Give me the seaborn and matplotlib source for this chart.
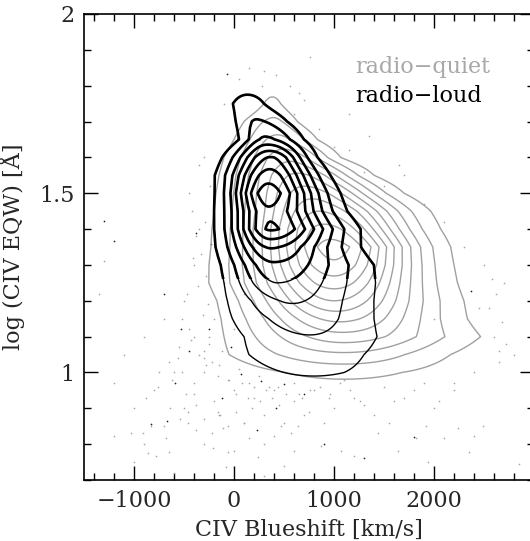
import numpy as np
import matplotlib
matplotlib.use("Agg")
import matplotlib.pyplot as plt
from matplotlib.patches import Rectangle
from matplotlib.ticker import FixedLocator, MultipleLocator
import seaborn as sns
import pandas as pd

row_y = [0.85, 0.90, 0.95, 1.00, 1.05, 1.10, 1.15, 1.20, 1.25, 1.30, 1.35,
         1.40, 1.45, 1.50, 1.55, 1.60, 1.65, 1.70, 1.75, 1.80, 1.85]

# radio-loud: per-row peak (in contour units), centre and left/right widths [km/s]
rl_peak = [0.0, 0.3, 0.6, 1.1, 1.5, 1.95, 2.5, 3.1, 4.0, 4.8, 6.1,
           8.15, 7.8, 8.6, 7.5, 6.05, 3.2, 2.1, 1.5, 0.5, 0.0]
rl_center = [800, 800, 800, 800, 725, 767, 700, 567, 433, 400, 367,
             367, 350, 333, 350, 367, 317, 233, 133, 133, 133]
rl_wl = [690, 690, 690, 690, 639, 577, 529, 421, 320, 301, 290,
         276, 271, 254, 270, 256, 175, 177, 160, 160, 160]
rl_wr = [690, 690, 690, 690, 639, 574, 517, 553, 590, 564, 475,
         439, 386, 353, 306, 247, 251, 245, 185, 185, 185]

# radio-quiet
rq_peak = [0.0, 0.2, 0.5, 1.3, 2.8, 4.6, 6.3, 8.0, 9.5, 10.8, 11.5,
           10.4, 9.0, 7.6, 6.2, 4.7, 3.3, 2.2, 1.3, 0.5, 0.0]
rq_center = [1100, 1100, 1100, 1100, 1100, 1100, 1050, 1000, 1000, 1000, 1000,
             920, 850, 750, 650, 550, 450, 400, 383, 383, 383]
rq_wl = [800, 800, 800, 800, 801, 687, 615, 574, 590, 573, 557,
         527, 501, 462, 419, 370, 291, 239, 115, 115, 115]
rq_wr = [800, 800, 800, 800, 743, 782, 669, 637, 582, 550, 528,
         530, 533, 472, 393, 294, 248, 186, 115, 115, 115]

rl_levels = [1, 2, 3, 4, 5, 6, 7, 8]
rq_levels = [1, 2, 3, 4, 5, 6, 7, 8, 9, 10, 11]

# individual objects outside the contours
rq_dot_x = [-833, -913, -683, -863, -783, -653, -213, -63, -83, 147, 467, 567, 637,
            397, -1203, -1033, -463, -113, 237, 1197, 1817, 1917, 1547, 2397, 2347,
            2487, 1067, 1437, 1637, 1937, 2847, 2097, 2237, 867,
            -100, 50, 150, 280, 420, 600, 700, 850, 1000, 1150, 1300, 1500, 1700,
            1900, 2100, 2300, 2500, 2700, 2600, 2800, 2400, 2200, 2000, 1800, 1600,
            1400, 1200, 1000, 800, 600, 400, 200, 0, -200, -400, -600, -800, -1000,
            -1200, -1100, -900, -700, -500, -400, -350, -450, -300, -250, -300,
            -150, 100, 300, 500, 700, 900, -500, -700, -900, -300, 0, 300, 600,
            -1000, -600, -350, -250, -150, -50, 50, 150, 250, 350, -450, -550,
            -650, -750, -200, -100, 0, 100, 200, -300, -400, 450, 650, 750, 950,
            1100, 1300, 1500, 1700, 2000, 2200, 2450, 2650, -1300, -1350, 300, 500,
            -420, -380, -330, -280, -260, -310, -360, -410, -470, -520, -290, -240,
            -350, -430, -560, -620, -480, -380, -300, -220, -160, -120, -60, 20,
            80, 140, 200, 260, 320, 380, 440, 520, 600, 680, 760, 860, 960, 1060,
            1160, 1260, -540, -460, -380, -300, -220, -140, -60, 20, 100, 180,
            -880, -760, -640, -520, -400, -280, -160, 2550, 2620, 2680, 2720,
            2580, 2650, 1900, 2050, 1650, 1350, 1150, 560, 650, 760, 300]
rq_dot_y = [0.852, 0.830, 0.818, 0.774, 0.768, 0.777, 0.790, 0.777, 0.735, 0.818,
            0.852, 0.832, 0.852, 0.824, 0.824, 0.830, 0.858, 0.846, 0.763, 0.768,
            0.818, 0.852, 0.858, 0.824, 0.777, 0.852, 0.782, 0.830, 0.782, 0.749,
            0.746, 0.818, 0.846, 0.796,
            1.75, 1.82, 1.85, 1.80, 1.83, 1.72, 1.76, 1.68, 1.63, 1.62, 1.56, 1.52,
            1.55, 1.47, 1.42, 1.35, 1.30, 1.25, 1.10, 1.05, 1.00, 0.95, 0.90, 0.95,
            0.92, 0.88, 0.93, 0.90, 0.95, 0.92, 0.95, 0.93, 0.95, 0.92, 0.97, 1.00,
            0.95, 0.90, 0.97, 1.05, 1.10, 1.15, 1.20, 1.30, 1.40, 1.50, 1.60, 1.10,
            1.00, 0.88, 0.86, 0.88, 0.86, 0.88, 0.86, 0.90, 0.85, 0.80, 0.80, 0.78,
            0.80, 0.78, 0.75, 0.72, 1.05, 1.08, 1.02, 0.98, 1.01, 0.97, 0.99, 0.96,
            1.12, 1.07, 1.03, 1.00, 1.15, 1.25, 1.12, 1.22, 1.35, 1.04, 1.10, 0.91,
            0.94, 0.89, 0.93, 0.98, 0.91, 0.96, 0.93, 1.15, 0.97, 1.18, 1.06, 1.31,
            1.22, 0.71, 0.74,
            1.45, 1.38, 1.33, 1.27, 1.19, 1.16, 1.24, 1.32, 1.22, 1.15, 1.42, 1.52,
            1.58, 1.09, 1.04, 0.98, 0.94, 0.91, 1.06, 1.03, 0.99, 1.06, 0.98, 0.94,
            0.97, 0.93, 0.96, 0.92, 0.95, 0.93, 0.96, 0.94, 0.97, 0.93, 0.95, 0.96,
            0.94, 0.97, 0.95, 0.92, 0.87, 0.89, 0.84, 0.87, 0.83, 0.88, 0.85, 0.89,
            0.86, 0.90, 0.93, 0.96, 0.90, 1.00, 0.94, 1.02, 0.89, 1.18, 1.22, 1.14,
            1.08, 1.26, 1.03, 0.97, 0.92, 1.58, 1.66, 1.72, 1.80, 1.78, 1.88, 1.84]
rl_dot_x = [-67, -233, -700, -533, -33, 267, 500, 700, 1800, 2367, 67, -667, -1300,
            -1200, -833, -380, -450, -120, 420, 230, -250, -590, 900, 1300]
rl_dot_y = [1.833, 1.358, 1.219, 1.121, 1.07, 0.977, 0.968, 0.94, 0.819, 1.228,
            0.996, 0.865, 1.423, 1.367, 0.856, 1.39, 1.06, 0.93, 0.90, 0.84,
            1.12, 0.97, 0.80, 0.76]


def row_density(xg, peak, center, wl, wr):
    z = np.zeros((len(peak), len(xg)))
    for i in range(len(peak)):
        w = np.where(xg < center[i], wl[i], wr[i])
        z[i] = peak[i] * np.exp(-0.5 * ((xg - center[i]) / w) ** 2)
    return z


sns.set_theme(style="ticks")
plt.rcParams["font.family"] = ["DejaVu Serif"]

fig = plt.figure(figsize=(5.30, 5.41), dpi=100)
ax = fig.add_axes([84 / 530, 61 / 541, 450 / 530, 466 / 541])

dots_rq = pd.DataFrame({"x": rq_dot_x, "y": rq_dot_y})
dots_rl = pd.DataFrame({"x": rl_dot_x, "y": rl_dot_y})
sns.scatterplot(data=dots_rq, x="x", y="y", s=1.5, color="#a8a8a8", linewidth=0, ax=ax)
sns.scatterplot(data=dots_rl, x="x", y="y", s=1.5, color="#202020", linewidth=0, ax=ax)

xg = np.arange(-1500, 3001, 20)
z_rq = row_density(xg, rq_peak, rq_center, rq_wl, rq_wr)
z_rl = row_density(xg, rl_peak, rl_center, rl_wl, rl_wr)

ax.contour(xg, row_y, z_rq, levels=rq_levels, colors="#a0a0a0", linewidths=1.0)
ax.contour(xg, row_y, z_rl, levels=rl_levels, colors="black", linewidths=1.0)
thick = ax.contour(xg, row_y, z_rl, levels=rl_levels, colors="black", linewidths=1.9)
clip = Rectangle((-1500, 1.26), 4500, 0.8, transform=ax.transData)
thick.set_clip_path(clip)

ax.set_xlim(-1500, 3000)
ax.set_ylim(0.7, 2.0)
ax.xaxis.set_major_locator(FixedLocator([-1000, 0, 1000, 2000]))
ax.xaxis.set_minor_locator(MultipleLocator(200))
ax.yaxis.set_major_locator(FixedLocator([1.0, 1.5, 2.0]))
ax.yaxis.set_minor_locator(MultipleLocator(0.1))
ax.set_yticklabels(["1", "1.5", "2"])
ax.tick_params(which="both", direction="in", top=True, right=True, labelsize=16,
               width=1.0, color="black", pad=7)
ax.tick_params(which="major", length=10)
ax.tick_params(which="minor", length=5)
for sp in ax.spines.values():
    sp.set_linewidth(1.2)
    sp.set_color("black")

ax.set_xlabel("CIV Blueshift [km/s]", fontsize=16, labelpad=5)
ax.set_ylabel("log (CIV EQW) [Å]", fontsize=16, labelpad=10)

ax.text(0.602, 0.886, "radio\u2212quiet", transform=ax.transAxes, fontsize=16,
        color="#a8a8a8", va="center", ha="left")
ax.text(0.602, 0.824, "radio\u2212loud", transform=ax.transAxes, fontsize=16,
        color="black", va="center", ha="left")

fig.savefig("out.png", dpi=100)
